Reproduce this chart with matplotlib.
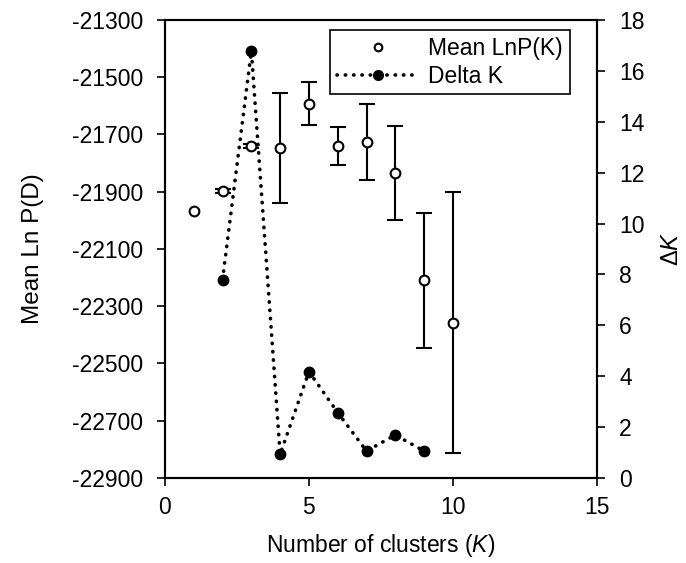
#!/usr/bin/env python3
import matplotlib
matplotlib.use('Agg')
import matplotlib.pyplot as plt
from matplotlib.lines import Line2D

plt.rcParams['font.family'] = ['Liberation Sans', 'DejaVu Sans']
plt.rcParams['font.size'] = 16
plt.rcParams['axes.unicode_minus'] = False
plt.rcParams['mathtext.fontset'] = 'custom'
plt.rcParams['mathtext.it'] = 'Liberation Sans:italic'
plt.rcParams['mathtext.rm'] = 'Liberation Sans'

# Mean LnP(K) with standard deviation
k_mean = [1, 2, 3, 4, 5, 6, 7, 8, 9, 10]
mean_lnp = [-21967, -21897, -21740, -21746, -21592, -21740, -21725, -21835, -22210, -22357]
sd_lnp = [float('nan'), 8, 8, 192, 74, 67, 133, 165, 237, 455]

# Delta K
k_delta = [2, 3, 4, 5, 6, 7, 8, 9]
delta_k = [7.8, 16.78, 0.93, 4.18, 2.57, 1.06, 1.69, 1.06]

fig, ax1 = plt.subplots(figsize=(6.86, 5.63), dpi=100)
fig.subplots_adjust(left=0.2405, right=0.870, top=0.9645, bottom=0.151)
ax2 = ax1.twinx()

ax1.errorbar(k_mean, mean_lnp, yerr=sd_lnp, fmt='o', color='black',
             mfc='white', mec='black', ms=7, mew=1.5, elinewidth=1.5,
             capsize=5.5, capthick=1.5, zorder=3)

ax2.plot(k_delta, delta_k, color='black', linestyle=(0, (0.1, 2.2)),
         linewidth=2.6, dash_capstyle='round', marker='o', ms=7.5,
         mfc='black', mec='black')

ax1.set_xlim(0, 15)
ax1.set_xticks([0, 5, 10, 15])
ax1.set_ylim(-22900, -21300)
ax1.set_yticks(range(-22900, -21299, 200))
ax2.set_ylim(0, 18)
ax2.set_yticks(range(0, 19, 2))

for ax in (ax1, ax2):
    ax.tick_params(direction='out', length=6, width=1.2, labelsize=16.5, pad=10)
    for s in ax.spines.values():
        s.set_linewidth(1.5)
ax1.tick_params(axis='x', pad=7)

ax1.set_xlabel('Number of clusters $\\it{(K)}$', fontsize=16.5, labelpad=9)
ax1.set_ylabel('Mean Ln P(D)', fontsize=17.5, labelpad=20)
ax2.set_ylabel('$\\Delta K$', fontsize=17, labelpad=12)

h1 = Line2D([], [], linestyle='none', marker='o', mfc='white', mec='black',
            ms=5.5, mew=1.5, color='black')
h2 = Line2D([], [], color='black', linestyle=(0, (0.1, 2.2)), linewidth=2.6,
            dash_capstyle='round', marker='o', ms=7, mfc='black')
leg = ax2.legend([h1, h2], ['Mean LnP(K)', 'Delta K'], loc='upper left',
                 bbox_to_anchor=(0.382, 0.978), fancybox=False, framealpha=1,
                 edgecolor='black', borderpad=0.3, labelspacing=0.2,
                 handlelength=3.6, handletextpad=0.4, borderaxespad=0.0,
                 fontsize=16.5)
leg.get_frame().set_linewidth(1.2)

print('Writing plot to out.png')
fig.savefig('out.png', dpi=100)
plt.close()
